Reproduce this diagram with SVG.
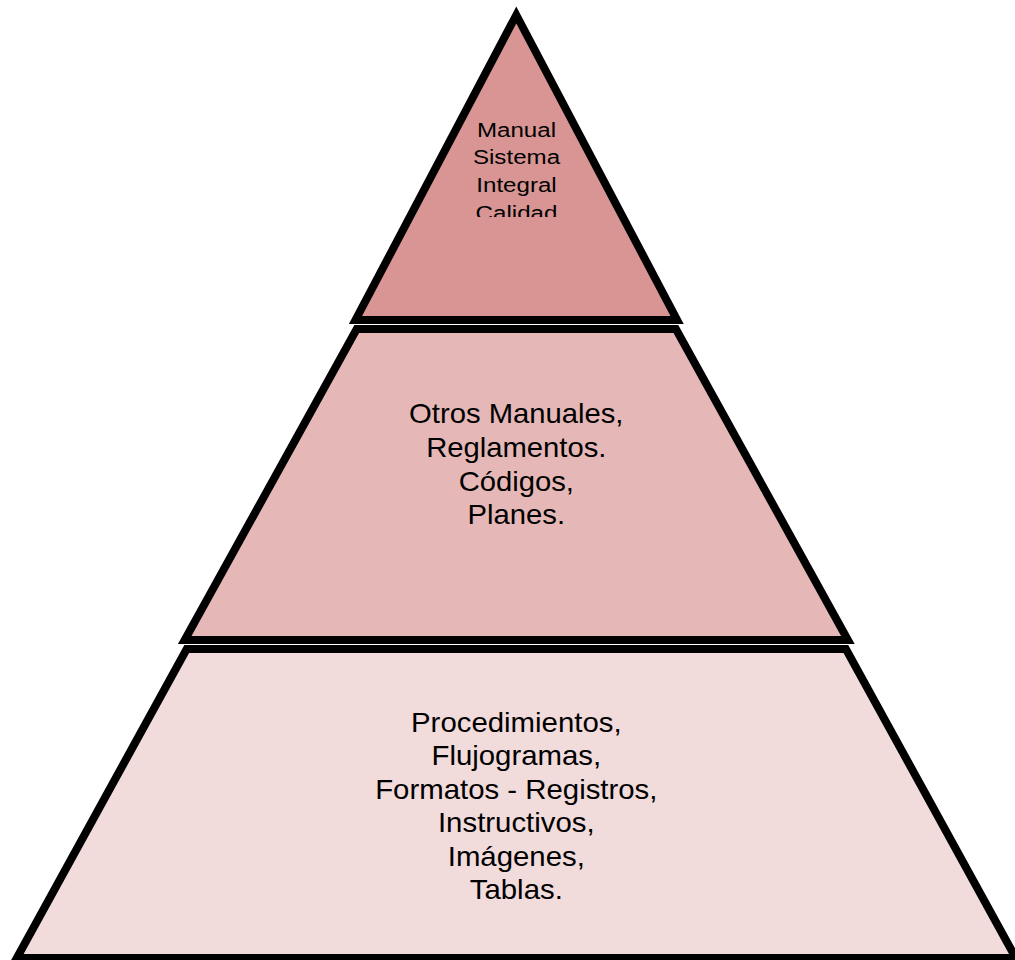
<svg xmlns="http://www.w3.org/2000/svg" width="1015" height="960" viewBox="0 0 1015 960">
  <style>
    .lvl { stroke: #000; stroke-width: 8; stroke-linejoin: miter; stroke-miterlimit: 10; }
    .t { font-family: "Liberation Sans", Arial, sans-serif; fill: #000; text-anchor: middle; }
  </style>
  <defs>
    <clipPath id="clipTop">
      <rect x="400" y="100" width="240" height="117"/>
    </clipPath>
  </defs>
  <rect width="1015" height="960" fill="#fff"/>

  <g id="nivel-3">
    <polygon class="lvl" fill="#F2DBDB" points="186.7,649 845.9,649 1015.8,958 16.8,958"/>
    <g transform="translate(516.3 0) scale(1.088 1)">
      <text class="t" font-size="27" x="0" y="731.7">Procedimientos,</text>
      <text class="t" font-size="27" x="0" y="765.2">Flujogramas,</text>
      <text class="t" font-size="27" x="0" y="798.7">Formatos - Registros,</text>
      <text class="t" font-size="27" x="0" y="832.2">Instructivos,</text>
      <text class="t" font-size="27" x="0" y="865.7">Imágenes,</text>
      <text class="t" font-size="27" x="0" y="899.2">Tablas.</text>
    </g>
  </g>

  <g id="nivel-2">
    <polygon class="lvl" fill="#E5B8B7" points="356.7,329 675.9,329 847.9,640 184.7,640"/>
    <g transform="translate(516.3 0) scale(1.083 1)">
      <text class="t" font-size="27" x="0" y="423.3">Otros Manuales,</text>
      <text class="t" font-size="27" x="0" y="457">Reglamentos.</text>
      <text class="t" font-size="27" x="0" y="490.8">Códigos,</text>
      <text class="t" font-size="27" x="0" y="524.5">Planes.</text>
    </g>
  </g>

  <g id="nivel-1">
    <polygon class="lvl" fill="#D99594" points="516.3,15 677.1,320 355.5,320"/>
    <g clip-path="url(#clipTop)">
      <g transform="translate(516.5 0) scale(1.149 1)">
        <text class="t" font-size="21" x="0" y="136.8">Manual</text>
        <text class="t" font-size="21" x="0" y="164.4">Sistema</text>
        <text class="t" font-size="21" x="0" y="192">Integral</text>
        <text class="t" font-size="21" x="0" y="219.6">Calidad</text>
      </g>
    </g>
  </g>

  <g id="connectors"/>
</svg>
